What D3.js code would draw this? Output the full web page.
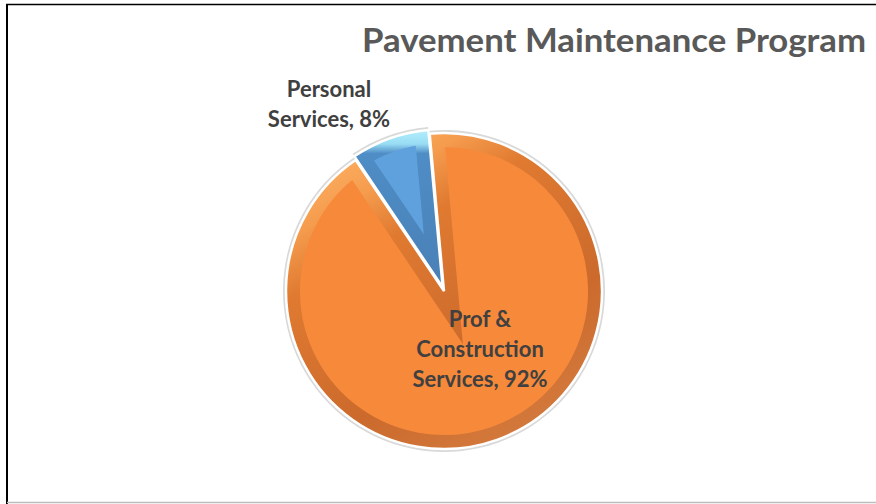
<!DOCTYPE html>
<html>
<head>
<meta charset="utf-8">
<script src="https://cdn.jsdelivr.net/npm/d3@7"></script>
<style>
  html, body { margin: 0; padding: 0; background: #fff; }
  svg { display: block; }
</style>
</head>
<body>
<svg id="chart" width="876" height="504"></svg>
<script>
// chart data
var title = "Pavement Maintenance Program";
var categories = ["Personal Services", "Prof & Construction Services"];
var values = [8, 92];
var labelLines = [["Personal", "Services, 8%"], ["Prof &", "Construction", "Services, 92%"]];

var w = 876, h = 504;
var cx = 444, cy = 291, r = 158,
    bevel = 14,
    explode = [4, 0];

var faces = ["#5fa1dd", "#f7893b"];
var rims = [
  [[0, "#b3effc"], [0.09, "#98dcf4"], [0.15, "#4f8dc6"], [1, "#4980b6"]],
  [[0, "#ffb468"], [0.16, "#f59c4e"], [0.3, "#e07a31"], [0.68, "#cb6a2c"], [1, "#d57c40"]]
];
var labelPos = [[-115, -186], [36, 59]];   // offsets from pie centre
var labelGap = [30, 30];

var svg = d3.select("#chart");
var defs = svg.append("defs");

// frame
svg.append("line").attr("x1", 6).attr("x2", w).attr("y1", 4.5).attr("y2", 4.5)
  .attr("stroke", "#000").attr("stroke-width", 1.6);
svg.append("line").attr("x1", 7).attr("x2", 7).attr("y1", 4).attr("y2", h)
  .attr("stroke", "#000").attr("stroke-width", 2);
svg.append("line").attr("x1", 7).attr("x2", w).attr("y1", 502.5).attr("y2", 502.5)
  .attr("stroke", "#bdbdbd").attr("stroke-width", 1.5);

svg.append("text")
  .attr("x", 866).attr("y", 52)
  .attr("text-anchor", "end")
  .attr("font-family", "Lato, 'Open Sans', sans-serif")
  .attr("font-weight", "bold")
  .attr("font-size", 32)
  .attr("textLength", 504)
  .attr("lengthAdjust", "spacingAndGlyphs")
  .attr("fill", "#595959")
  .text(title);

var pie = d3.pie().sort(null)
  .startAngle(-34 * Math.PI / 180)
  .endAngle(-34 * Math.PI / 180 + 2 * Math.PI);
var arcs = pie(values);

var arc = d3.arc().innerRadius(0).outerRadius(r);
var shadowArc = d3.arc().innerRadius(r - 6).outerRadius(r + 3);

// gradients for the bevel rim
rims.forEach(function(stops, i) {
  var g = defs.append("linearGradient").attr("id", "rim" + i);
  if (i == 0) g.attr("x1", 0).attr("y1", 0).attr("x2", 0).attr("y2", 1);
  else g.attr("x1", 0.2).attr("y1", 0).attr("x2", 0.8).attr("y2", 1);
  stops.forEach(function(s) {
    g.append("stop").attr("offset", s[0]).attr("stop-color", s[1]);
  });
});

var pieG = svg.append("g").attr("transform", "translate(" + cx + "," + cy + ")");

var slices = pieG.selectAll(".slice")
  .data(arcs)
  .enter().append("g")
    .attr("class", "slice")
    .attr("transform", function(d, i) {
      var a = (d.startAngle + d.endAngle) / 2;
      return "translate(" + (Math.sin(a) * explode[i]) + "," + (-Math.cos(a) * explode[i]) + ")";
    });

slices.append("path")
  .attr("d", shadowArc)
  .attr("fill", "#d9d9d9");

slices.append("clipPath")
  .attr("id", function(d, i) { return "clip" + i; })
  .append("path")
  .attr("d", arc);

slices.append("path")
  .attr("d", arc)
  .attr("fill", function(d, i) { return faces[i]; })
  .attr("stroke", function(d, i) { return "url(#rim" + i + ")"; })
  .attr("stroke-width", bevel * 2)
  .attr("stroke-linejoin", "miter")
  .attr("stroke-miterlimit", 12)
  .attr("clip-path", function(d, i) { return "url(#clip" + i + ")"; });

slices.append("path")
  .attr("d", arc)
  .attr("fill", "none")
  .attr("stroke", "#fff")
  .attr("stroke-width", 2.5)
  .attr("stroke-linejoin", "miter");

// data labels
var labels = pieG.selectAll(".lbl")
  .data(arcs)
  .enter().append("text")
    .attr("class", "lbl")
    .attr("text-anchor", "middle")
    .attr("font-family", "Lato, 'Open Sans', sans-serif")
    .attr("font-weight", "bold")
    .attr("font-size", 22)
    .attr("fill", "#404040");

labels.each(function(d, i) {
  var t = d3.select(this);
  var lines = labelLines[i];
  var y0 = labelPos[i][1] - (lines.length - 1) * labelGap[i] / 2;
  lines.forEach(function(line, j) {
    t.append("tspan")
      .attr("x", labelPos[i][0])
      .attr("y", y0 + j * labelGap[i] + 7)
      .text(line);
  });
});
</script>
</body>
</html>
